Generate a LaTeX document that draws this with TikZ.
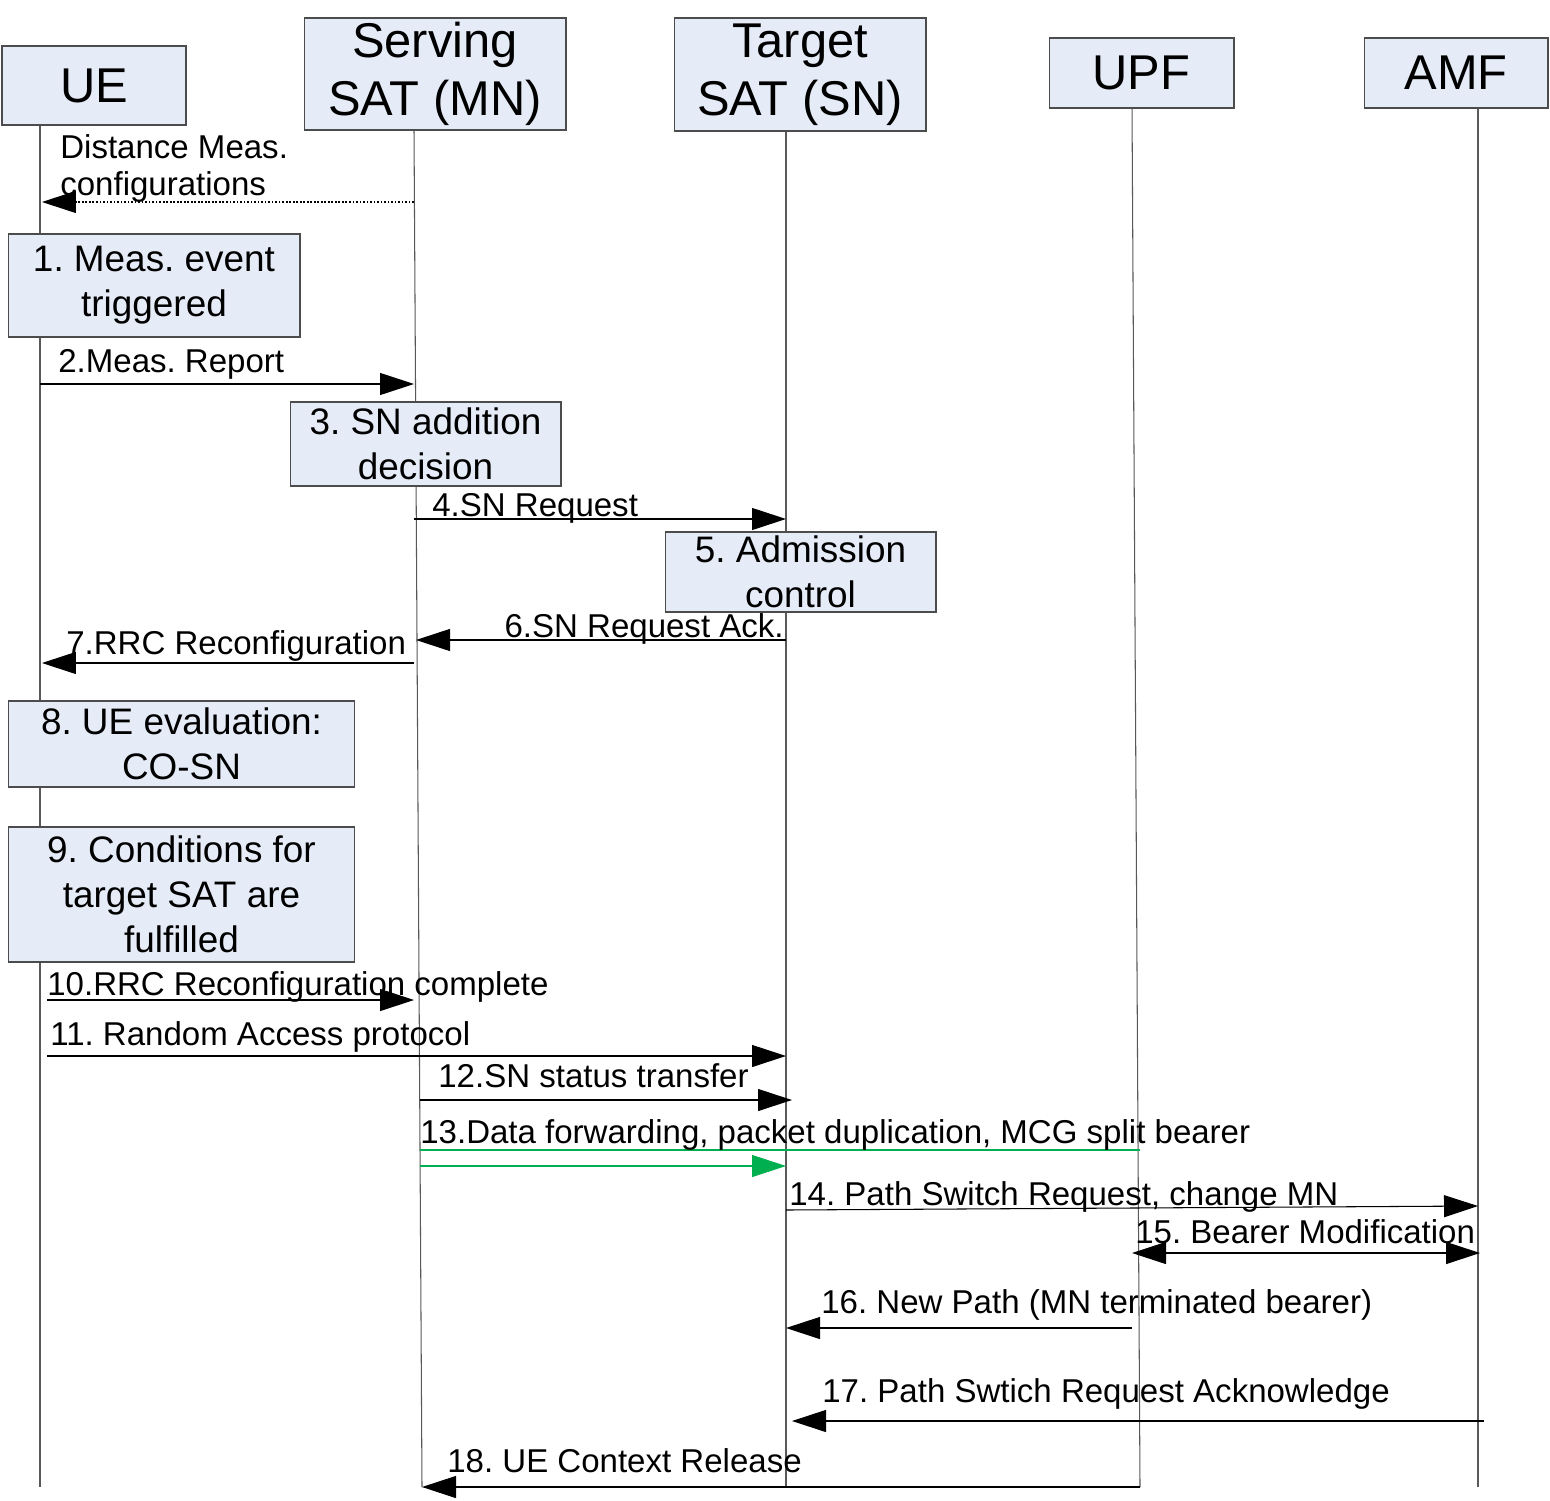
\documentclass[tikz,border=0pt]{standalone}
\usepackage{fontspec}
\setmainfont{Liberation Sans}
\usetikzlibrary{arrows.meta}
\definecolor{boxblue}{RGB}{230,236,247}
\definecolor{fwdgreen}{RGB}{0,176,80}

\begin{document}
\frenchspacing
\begin{tikzpicture}[x=0.02cm,y=-0.02cm,
  entity/.style={draw=black!70,fill=boxblue,line width=0.6pt,inner sep=0pt,align=center,font=\fontsize{27.8}{32.9}\selectfont},
  action/.style={draw=black!70,fill=boxblue,line width=0.6pt,inner sep=0pt,align=center,font=\fontsize{21}{25.5}\selectfont},
  life/.style={black!65,line width=0.6pt},
  msg/.style={black,line width=0.6pt,-{Triangle[length=0.68cm,width=0.44cm]}},
  lbl/.style={inner sep=0pt,anchor=base west,font=\fontsize{18.8}{21}\selectfont}]

\useasboundingbox (0,0) rectangle (1550,1500);

% lifelines
\foreach \n/\xa/\ya/\xb in {UE/40/125/40, Srv/414/130/422, Tgt/786/131/786, UPF/1132/108/1140, AMF/1478/108/1478}{
  \coordinate (\n-top) at (\xa,\ya);
  \coordinate (\n-bot) at (\xb,1487);
  \draw[life] (\n-top) -- (\n-bot);
}

% entities
\node[entity,minimum width=3.68cm,minimum height=1.58cm] (ue) at (94,85.5) {UE};
\node[entity,minimum width=5.24cm,minimum height=2.24cm] (srv) at (435,74) {Serving\\SAT (MN)};
\node[entity,minimum width=5.04cm,minimum height=2.26cm] (tgt) at (800,74.5) {Target\\SAT (SN)};
\node[entity,minimum width=3.70cm,minimum height=1.40cm] (upf) at (1141.5,73) {UPF};
\node[entity,minimum width=3.68cm,minimum height=1.40cm] (amf) at (1456,73) {AMF};

% steps
\node[action,minimum width=5.84cm,minimum height=2.06cm] (a1) at (154,285.5) {1. Meas. event\\triggered};
\node[action,minimum width=5.42cm,minimum height=1.68cm] (a3) at (425.5,444) {3. SN addition\\decision};
\node[action,minimum width=5.42cm,minimum height=1.60cm] (a5) at (800.5,572) {5. Admission\\control};
\node[action,minimum width=6.94cm,minimum height=1.72cm] (a8) at (181.5,744) {8. UE evaluation:\\CO-SN};
\node[action,minimum width=6.94cm,minimum height=2.70cm] (a9) at (181.5,894.5) {9. Conditions for\\target SAT are\\fulfilled};

% message ends
\foreach \n/\x/\y in {m0a/414/202, m0b/42/202, m2a/40/384, m2b/414/384, m4a/414/519, m4b/786/519,
  m6a/786/640, m6b/416/640, m7a/414/663, m7b/42/663, m10a/47/1000, m10b/414/1000,
  m11a/47/1056, m11b/786/1056, m12a/420/1100, m12b/792/1100, m13a/420/1166, m13b/786/1166,
  m13c/420/1150, m13d/1140/1150, m14a/786/1210, m14b/1478/1206, m15a/1132/1253, m15b/1480/1253,
  m16a/1132/1328, m16b/786/1328, m17a/1484/1421, m17b/792/1421}
  \coordinate (\n) at (\x,\y);

\draw[msg,dash pattern=on 1pt off 1pt] (m0a) -- (m0b);
\draw[msg] (m2a) -- (m2b);
\draw[msg] (m4a) -- (m4b);
\draw[msg] (m6a) -- (m6b);
\draw[msg] (m7a) -- (m7b);
\draw[msg] (m10a) -- (m10b);
\draw[msg] (m11a) -- (m11b);
\draw[msg] (m12a) -- (m12b);
\draw[fwdgreen,line width=0.6pt] (m13c) -- (m13d);
\draw[msg,fwdgreen] (m13a) -- (m13b);
\draw[msg] (m14a) -- (m14b);
\draw[msg,{Triangle[length=0.68cm,width=0.44cm]}-{Triangle[length=0.68cm,width=0.44cm]}] (m15a) -- (m15b);
\draw[msg] (m16a) -- (m16b);
\draw[msg] (m17a) -- (m17b);
\draw[msg] (UPF-bot) -- (Srv-bot);

% labels
\node[lbl,anchor=north west,align=left] (t0) at (60,134) {Distance Meas.\\configurations};
\node[lbl] (t2) at (58,372) {2.Meas. Report};
\node[lbl] (t4) at (432,516) {4.SN Request};
\node[lbl,anchor=base east] (t6) at (784,637) {6.SN Request Ack.};
\node[lbl] (t7) at (66,654) {7.RRC Reconfiguration};
\node[lbl] (t10) at (47,995) {10.RRC Reconfiguration complete};
\node[lbl] (t11) at (50,1045) {11. Random Access protocol};
\node[lbl] (t12) at (438,1087) {12.SN status transfer};
\node[lbl] (t13) at (420,1143) {13.Data forwarding, packet duplication, MCG split bearer};
\node[lbl] (t14) at (789,1205) {14. Path Switch Request, change MN};
\node[lbl] (t15) at (1135,1243) {15. Bearer Modification};
\node[lbl] (t16) at (821,1313) {16. New Path (MN terminated bearer)};
\node[lbl] (t17) at (822,1402) {17. Path Swtich Request Acknowledge};
\node[lbl] (t18) at (447,1472) {18. UE Context Release};
\end{tikzpicture}
\end{document}
